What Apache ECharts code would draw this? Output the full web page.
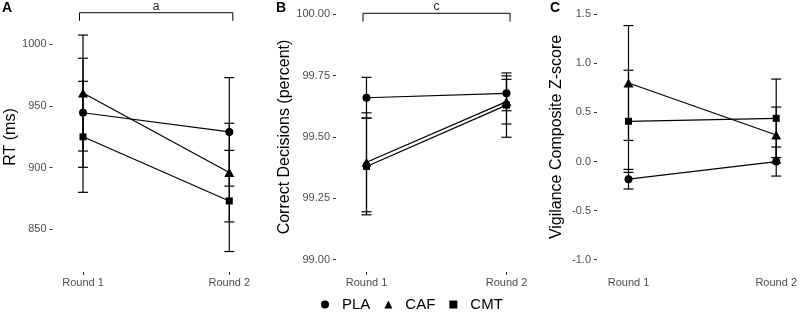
<!DOCTYPE html>
<html>
<head>
<meta charset="utf-8">
<script src="https://cdn.jsdelivr.net/npm/echarts@6/dist/echarts.min.js"></script>
<style>
  html, body { margin: 0; padding: 0; background: #fff; }
  #chart { width: 800px; height: 316px; }
</style>
</head>
<body>
<div id="chart"></div>
<script>
const rounds = ['Round 1', 'Round 2'];
const groups = ['PLA', 'CAF', 'CMT'];
const symbols = {PLA: 'circle', CAF: 'triangle', CMT: 'rect'};
const symbolSizes = {PLA: 8, CAF: [10, 9], CMT: 7};

// A: reaction time (ms), mean and error per round
const rtPLA = [944.5, 929];
const rtPLAErr = [44.2, 44];
const rtCAF = [960.5, 896];
const rtCAFErr = [47, 40];
const rtCMT = [925, 873];
const rtCMTErr = [45, 41];
const rtTicks = [850, 900, 950, 1000];

// B: correct decisions (percent)
const cdPLA = [99.66, 99.678];
const cdPLAErr = [0.083, 0.071];
const cdCAF = [99.397, 99.644];
const cdCAFErr = [0.2015, 0.091];
const cdCMT = [99.38, 99.63];
const cdCMTErr = [0.197, 0.131];
const cdTicks = [99.00, 99.25, 99.50, 99.75, 100.00];

// C: vigilance composite z-score
const vzPLA = [-0.18, 0.0];
const vzPLAErr = [0.10, 0.148];
const vzCAF = [0.80, 0.27];
const vzCAFErr = [0.585, 0.285];
const vzCMT = [0.41, 0.44];
const vzCMTErr = [0.52, 0.40];
const vzTicks = [-1.0, -0.5, 0.0, 0.5, 1.0, 1.5];

// significance brackets: [from index, to index, bracket y, leg bottom y]
const bracketA = [0, 1, 1025.6, 1019.1];
const bracketALabel = 'a';
const bracketB = [0, 1, 100.004, 99.970];
const bracketBLabel = 'c';

const font = 'Liberation Sans, Arial, Helvetica, sans-serif';

const panels = [
  {means: {PLA: rtPLA, CAF: rtCAF, CMT: rtCMT}, errs: {PLA: rtPLAErr, CAF: rtCAFErr, CMT: rtCMTErr},
   ticks: rtTicks, min: 815.4, max: 1034.3, digits: 0, title: 'RT (ms)', nameGap: 34,
   left: 83, right: 570.7, offset: 30.5},
  {means: {PLA: cdPLA, CAF: cdCAF, CMT: cdCMT}, errs: {PLA: cdPLAErr, CAF: cdCAFErr, CMT: cdCMTErr},
   ticks: cdTicks, min: 98.95, max: 100.05, digits: 2, title: 'Correct Decisions (percent)', nameGap: 43,
   left: 366.5, right: 293.5, offset: 30.5},
  {means: {PLA: vzPLA, CAF: vzCAF, CMT: vzCMT}, errs: {PLA: vzPLAErr, CAF: vzCAFErr, CMT: vzCMTErr},
   ticks: vzTicks, min: -1.125, max: 1.625, digits: 1, title: 'Vigilance Composite Z-score', nameGap: 32,
   left: 628.5, right: 21.3, offset: 31.5}
];

function errorBars(idx, means, errs) {
  return {
    type: 'custom',
    xAxisIndex: idx,
    yAxisIndex: idx,
    silent: true,
    clip: false,
    z: 2,
    encode: {x: 0, y: [1, 2]},
    data: means.map((m, i) => [i, m - errs[i], m + errs[i]]),
    renderItem(params, api) {
      const lo = api.coord([api.value(0), api.value(1)]);
      const hi = api.coord([api.value(0), api.value(2)]);
      const w = 5;
      const style = {stroke: '#000', lineWidth: 1.2, fill: null};
      return {
        type: 'group',
        children: [
          {type: 'line', shape: {x1: lo[0], y1: lo[1], x2: hi[0], y2: hi[1]}, style},
          {type: 'line', shape: {x1: lo[0] - w, y1: lo[1], x2: lo[0] + w, y2: lo[1]}, style},
          {type: 'line', shape: {x1: hi[0] - w, y1: hi[1], x2: hi[0] + w, y2: hi[1]}, style}
        ]
      };
    }
  };
}

function bracket(idx, b, label) {
  return {
    type: 'custom',
    xAxisIndex: idx,
    yAxisIndex: idx,
    silent: true,
    clip: false,
    encode: {x: [0, 1], y: [2, 3]},
    data: [b],
    renderItem(params, api) {
      const p0 = api.coord([api.value(0), api.value(2)]);
      const p1 = api.coord([api.value(1), api.value(2)]);
      const leg = api.coord([api.value(0), api.value(3)])[1];
      const dx = 3.5;
      const style = {stroke: '#000', lineWidth: 1, fill: null};
      return {
        type: 'group',
        children: [
          {type: 'polyline', shape: {points: [[p0[0] - dx, leg], [p0[0] - dx, p0[1]], [p1[0] + dx, p1[1]], [p1[0] + dx, leg]]}, style},
          {type: 'text', style: {text: label, x: (p0[0] + p1[0]) / 2, y: p0[1] - 0.5, align: 'center',
            verticalAlign: 'bottom', fontSize: 12, fontFamily: font, fill: '#222'}}
        ]
      };
    }
  };
}

const grid = [], xAxis = [], yAxis = [], series = [];
panels.forEach((p, idx) => {
  grid.push({left: p.left, right: p.right, top: 2, bottom: 44});
  xAxis.push({
    type: 'category', gridIndex: idx, data: rounds, boundaryGap: false,
    axisLine: {show: false},
    axisTick: {show: true, length: 3, lineStyle: {color: '#333', width: 1}},
    axisLabel: {fontSize: 11, color: '#4d4d4d', fontFamily: font, margin: 5},
    splitLine: {show: false}
  });
  yAxis.push({
    type: 'value', gridIndex: idx, min: p.min, max: p.max, offset: p.offset,
    name: p.title, nameLocation: 'middle', nameRotate: 90, nameGap: p.nameGap,
    nameTextStyle: {fontSize: 16, color: '#000', fontFamily: font},
    axisLine: {show: false},
    axisTick: {show: true, length: 3, customValues: p.ticks, lineStyle: {color: '#333', width: 1}},
    axisLabel: {fontSize: 11, color: '#4d4d4d', fontFamily: font, margin: 6,
      customValues: p.ticks, formatter: v => Number(v).toFixed(p.digits)},
    splitLine: {show: false}
  });
  groups.forEach(g => {
    series.push(errorBars(idx, p.means[g], p.errs[g]));
  });
  groups.forEach(g => {
    series.push({
      type: 'line', name: g, xAxisIndex: idx, yAxisIndex: idx,
      data: p.means[g],
      symbol: symbols[g], symbolSize: symbolSizes[g],
      itemStyle: {color: '#000'},
      lineStyle: {color: '#000', width: 1.2},
      clip: false, z: 3,
      emphasis: {disabled: true}
    });
  });
});
series.push(bracket(0, bracketA, bracketALabel));
series.push(bracket(1, bracketB, bracketBLabel));

const chart = echarts.init(document.getElementById('chart'));
chart.setOption({
  animation: false,
  backgroundColor: '#fff',
  grid, xAxis, yAxis, series,
  legend: {
    data: groups.map(g => ({name: g, icon: symbols[g]})),
    left: 316, top: 292,
    itemWidth: 8, itemHeight: 8, itemGap: 14,
    itemStyle: {color: '#000'},
    textStyle: {fontSize: 15, color: '#000', fontFamily: font, padding: [0, 0, 0, 8]}
  },
  graphic: [
    {type: 'text', left: 2, top: 1, style: {text: 'A', fontSize: 14, fontWeight: 'bold', fontFamily: font, fill: '#000'}},
    {type: 'text', left: 276, top: 1, style: {text: 'B', fontSize: 14, fontWeight: 'bold', fontFamily: font, fill: '#000'}},
    {type: 'text', left: 550, top: 1, style: {text: 'C', fontSize: 14, fontWeight: 'bold', fontFamily: font, fill: '#000'}}
  ]
});
</script>
</body>
</html>
